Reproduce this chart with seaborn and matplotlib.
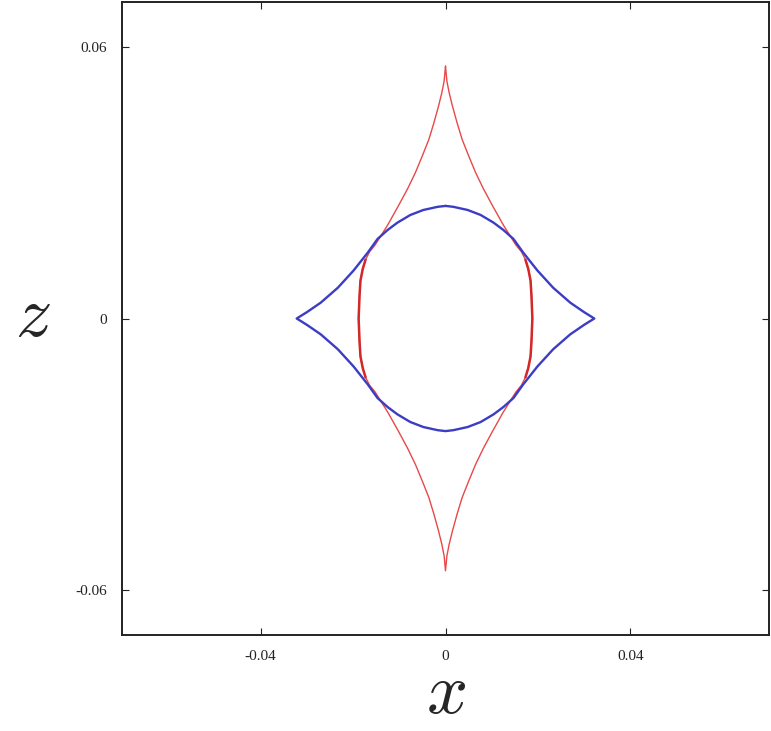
import numpy as np
import pandas as pd
import matplotlib
matplotlib.use("Agg")
import matplotlib.pyplot as plt
import seaborn as sns

# upper-right quarter of each caustic (the curves are symmetric in x and z)
red_x = [0.0, 0.0003, 0.0008, 0.0015, 0.0025, 0.0036, 0.0050, 0.0065, 0.0082, 0.0102,
         0.0125, 0.0152, 0.0164, 0.0173, 0.0179, 0.0184, 0.0186, 0.0187, 0.0188]
red_z = [0.0558, 0.0525, 0.0499, 0.0470, 0.0433, 0.0396, 0.0360, 0.0323, 0.0287, 0.0249,
         0.0207, 0.0163, 0.0148, 0.0130, 0.0110, 0.0084, 0.0051, 0.0025, 0.0]
blue_x = [0.0, 0.0017, 0.0048, 0.0076, 0.0104, 0.0125, 0.0147, 0.0168, 0.0199, 0.0233,
          0.0270, 0.0300, 0.0322]
blue_z = [0.0249, 0.0247, 0.0240, 0.0229, 0.0212, 0.0196, 0.0176, 0.0146, 0.0106, 0.0068,
          0.0035, 0.0014, 0.0]
x_ticks = [-0.04, 0, 0.04]
z_ticks = [-0.06, 0, 0.06]
x_tick_labels = ["-0.04", "0", "0.04"]
z_tick_labels = ["-0.06", "0", "0.06"]


def closed_curve(qx, qz):
    # walk the quarter, then its mirror images, round the whole curve
    qx = np.array(qx)
    qz = np.array(qz)
    xs = np.concatenate((qx, qx[::-1], -qx, -qx[::-1]))
    zs = np.concatenate((qz, -qz[::-1], -qz, qz[::-1]))
    return pd.DataFrame({"x": xs, "z": zs})


sns.set_style("ticks")
plt.rcParams["mathtext.fontset"] = "cm"
plt.rcParams["font.family"] = ["Liberation Serif", "DejaVu Serif"]

fig = plt.figure(figsize=(7.71, 7.31), dpi=100)
ax = fig.add_axes([122 / 771, 1 - 635 / 731, (769 - 122) / 771, (635 - 2) / 731])

red = closed_curve(red_x, red_z)
blue = closed_curve(blue_x, blue_z)
sns.lineplot(data=red, x="x", y="z", sort=False, estimator=None, color="#e84848", linewidth=1.0, ax=ax)
# the near-vertical flanks are drawn heavier in the original
for side in (1, -1):
    flank = red[(np.sign(red["x"]) == side) & (red["z"].abs() < 0.014)].sort_values("z")
    sns.lineplot(data=flank, x="x", y="z", sort=False, estimator=None, color="#d42828", linewidth=1.8, ax=ax)
sns.lineplot(data=blue, x="x", y="z", sort=False, estimator=None, color="#3c3cc4", linewidth=1.7, ax=ax)

ax.set_xlim(-0.07, 0.07)
ax.set_ylim(-0.07, 0.07)
ax.set_xticks(x_ticks)
ax.set_xticklabels(x_tick_labels)
ax.set_yticks(z_ticks)
ax.set_yticklabels(z_tick_labels)
ax.tick_params(direction="in", top=True, right=True, length=5, width=0.8, labelsize=11, pad=11, colors="#222222")
for s in ax.spines.values():
    s.set_visible(True)
    s.set_linewidth(1.4)
    s.set_color("#222222")

ax.set_xlabel("$x$", fontsize=52, labelpad=0)
ax.set_ylabel("$z$", fontsize=52, rotation=0, labelpad=30, va="center")

fig.savefig("out.png", dpi=100)
